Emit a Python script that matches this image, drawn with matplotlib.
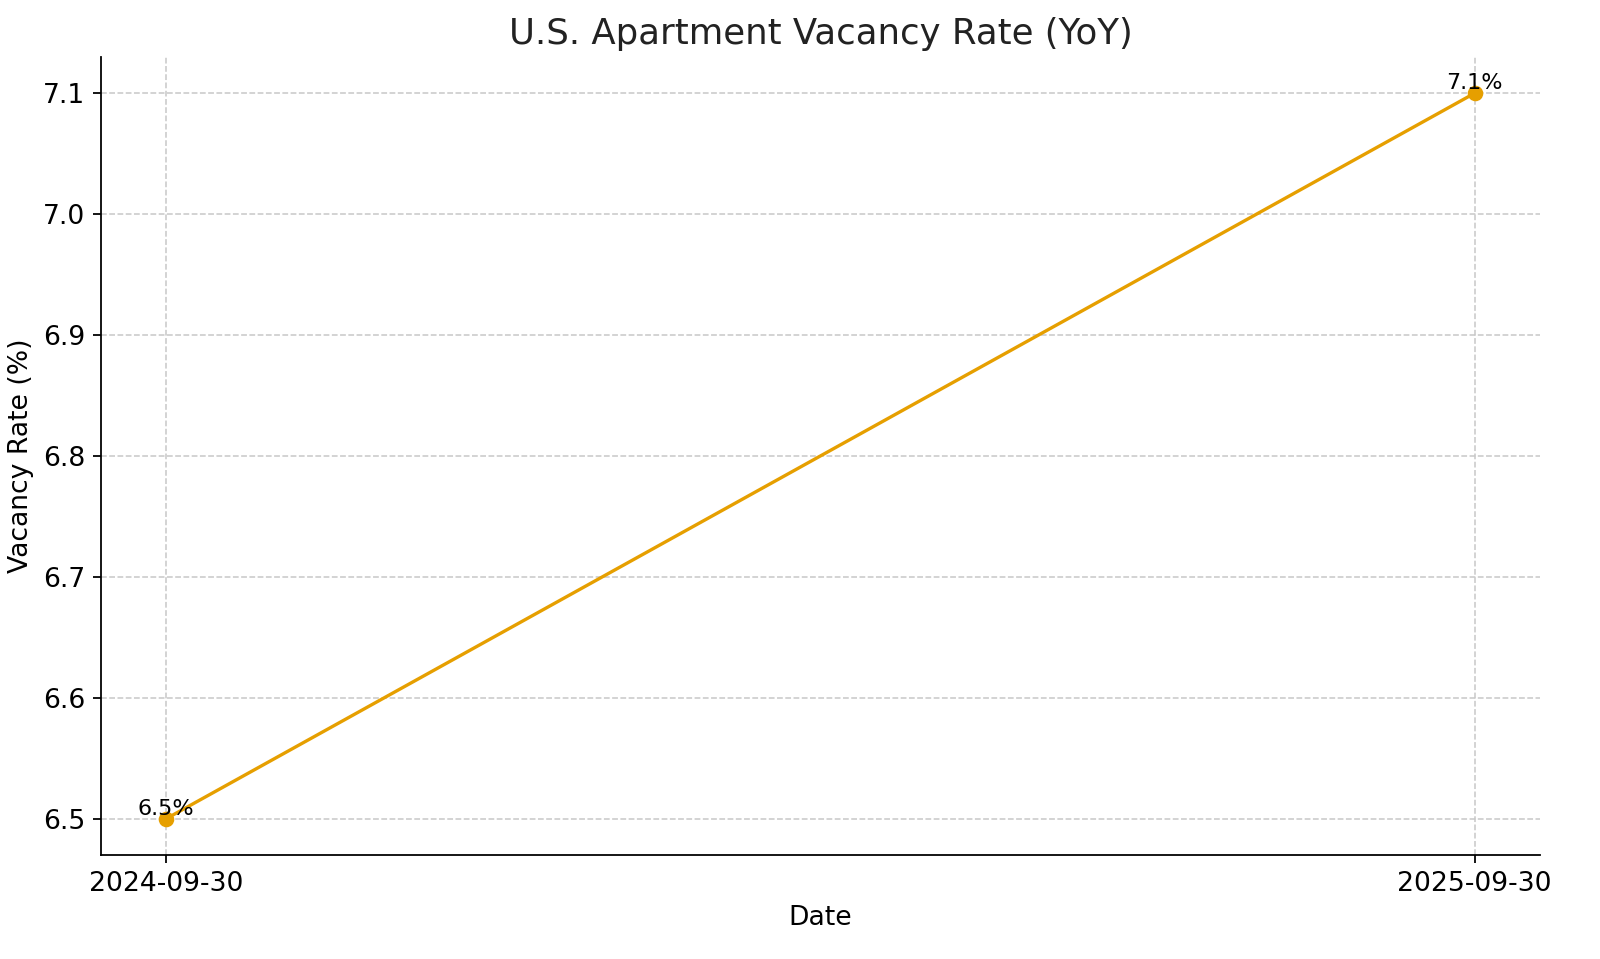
import matplotlib
matplotlib.use('Agg')
import matplotlib.pyplot as plt
import pandas as pd

dates = pd.to_datetime(["2024-09-30", "2025-09-30"])
vacancy = [6.5, 7.1]
labels = ["6.5%", "7.1%"]

fig, ax = plt.subplots(figsize=(10, 5.99375), dpi=160)
ax.plot(dates, vacancy, marker="o", color="#E69F00", linewidth=1.5, markersize=6)

for d, v, lab in zip(dates, vacancy, labels):
    ax.text(d, v, lab, ha="center", va="bottom", fontsize=10)

ax.set_xticks(dates)
ax.set_xticklabels([d.strftime("%Y-%m-%d") for d in dates])
ax.set_title("U.S. Apartment Vacancy Rate (YoY)", fontsize=16, color="#222222")
ax.set_xlabel("Date", fontsize=12)
ax.set_ylabel("Vacancy Rate (%)", fontsize=12)
ax.tick_params(labelsize=12)
ax.grid(True, linestyle="--", color="#c8c8c8", linewidth=0.7)
ax.spines["top"].set_visible(False)
ax.spines["right"].set_visible(False)

plt.subplots_adjust(left=0.063, right=0.9625, top=0.9406, bottom=0.1085)
plt.savefig("out.png", dpi=160)
